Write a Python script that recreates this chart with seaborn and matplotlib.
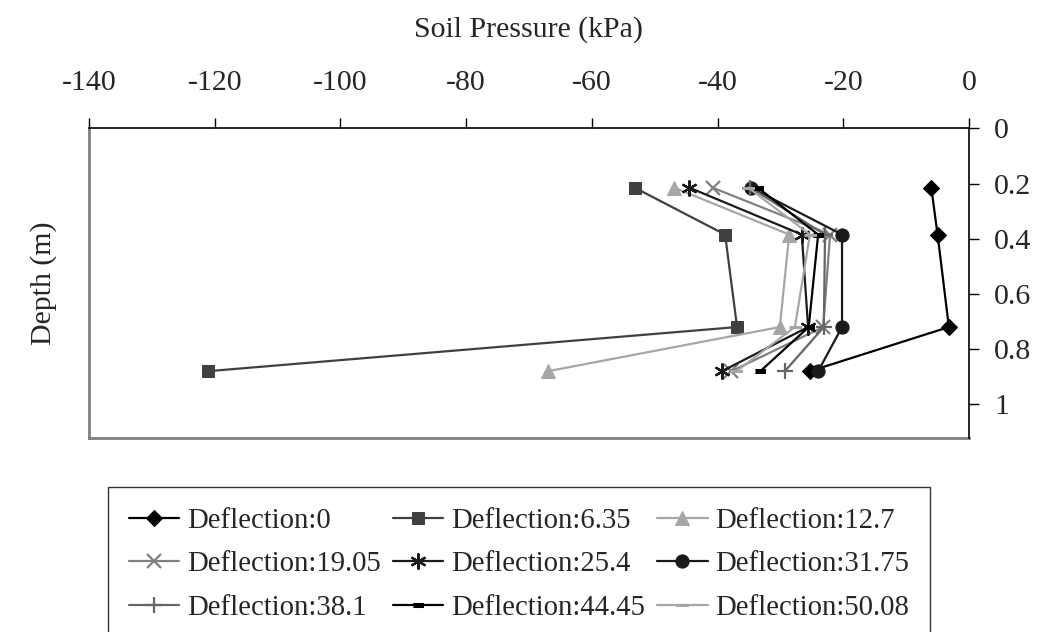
import matplotlib
matplotlib.use("Agg")
import matplotlib.pyplot as plt
import seaborn as sns

# depth of the pressure cells (m)
depth = [0.215, 0.385, 0.72, 0.88]

# soil pressure (kPa) for each wall deflection (mm)
p_0 = [-6.0, -5.0, -3.2, -25.3]
p_635 = [-53.2, -38.8, -36.9, -121.1]
p_127 = [-46.9, -28.6, -30.1, -67.0]
p_1905 = [-40.8, -22.1, -23.2, -37.8]
p_254 = [-44.5, -26.6, -25.6, -39.3]
p_3175 = [-34.7, -20.2, -20.2, -24.0]
p_381 = [-34.8, -22.9, -23.1, -29.3]
p_4445 = [-33.6, -24.0, -25.5, -33.2]
p_5008 = [-35.1, -25.3, -27.7, -37.0]

labels = ["Deflection:0", "Deflection:6.35", "Deflection:12.7",
          "Deflection:19.05", "Deflection:25.4", "Deflection:31.75",
          "Deflection:38.1", "Deflection:44.45", "Deflection:50.08"]
series = [p_0, p_635, p_127, p_1905, p_254, p_3175, p_381, p_4445, p_5008]

x_ticks = [-140, -120, -100, -80, -60, -40, -20, 0]
y_ticks = [0, 0.2, 0.4, 0.6, 0.8, 1]
y_ticklabels = ["0", "0.2", "0.4", "0.6", "0.8", "1"]

sns.set_style("white")
plt.rcParams["font.family"] = ["Liberation Serif", "DejaVu Serif"]
FS = 21.5
LEG_FS = 20.7

dash_short = [(-1, -0.45), (1, -0.45), (1, 0.45), (-1, 0.45)]
dash_long = [(-1.4, -0.3), (1.4, -0.3), (1.4, 0.3), (-1.4, 0.3)]
styles = [
    dict(color="#000000", marker="D", ms=8),
    dict(color="#404040", marker="s", ms=8),
    dict(color="#a6a6a6", marker="^", ms=9.5),
    dict(color="#808080", marker="x", ms=9.5, mew=1.6),
    dict(color="#1a1a1a", marker=(6, 2, 0), ms=11.5, mew=1.6),
    dict(color="#1a1a1a", marker="o", ms=9.5),
    dict(color="#666666", marker="+", ms=12, mew=1.6),
    dict(color="#000000", marker=dash_short, ms=7),
    dict(color="#a6a6a6", marker=dash_long, ms=8),
]

fig = plt.figure(figsize=(10.39, 6.32), dpi=100)
ax = fig.add_axes([89 / 1039, 1 - 438 / 632, 880 / 1039, (438 - 128.3) / 632])

for vals, lab, st in zip(series, labels, styles):
    sns.lineplot(x=vals, y=depth, ax=ax, sort=False, estimator=None,
                 label=lab, lw=1.6, mec=st["color"], mfc=st["color"], **st)

ax.set_xlim(-140, 0)
ax.set_ylim(1.122, 0)
ax.set_xticks(x_ticks)
ax.set_xticklabels([str(v) for v in x_ticks], fontsize=FS)
ax.set_yticks(y_ticks)
ax.set_yticklabels(y_ticklabels, fontsize=FS)

ax.xaxis.tick_top()
ax.xaxis.set_label_position("top")
ax.yaxis.tick_right()
ax.yaxis.set_label_position("left")
ax.tick_params(axis="x", direction="out", length=7, width=1, pad=16, color="black")
ax.tick_params(axis="y", direction="out", length=7, width=1, pad=11, color="black")
ax.set_xlabel("Soil Pressure (kPa)", fontsize=FS, labelpad=24)
ax.set_ylabel("Depth (m)", fontsize=FS, labelpad=23)

for side in ["top", "right"]:
    ax.spines[side].set_color("black")
    ax.spines[side].set_linewidth(1.2)
for side in ["left", "bottom"]:
    ax.spines[side].set_color("#808080")
    ax.spines[side].set_linewidth(2)
    ax.spines[side].set_zorder(0)

# legend filled row by row like the original
handles, labs = ax.get_legend_handles_labels()
ax.legend_.remove()
order = [0, 3, 6, 1, 4, 7, 2, 5, 8]
leg = fig.legend([handles[i] for i in order], [labs[i] for i in order],
                 ncol=3, loc="upper left",
                 bbox_to_anchor=(108 / 1039, 1 - 487 / 632),
                 fontsize=LEG_FS, frameon=True, fancybox=False, edgecolor="black",
                 handlelength=1.75, handletextpad=0.28, columnspacing=0.42,
                 labelspacing=0.6, borderpad=0.72, borderaxespad=0)
leg.get_frame().set_linewidth(1)

fig.savefig("out.png", dpi=100)
